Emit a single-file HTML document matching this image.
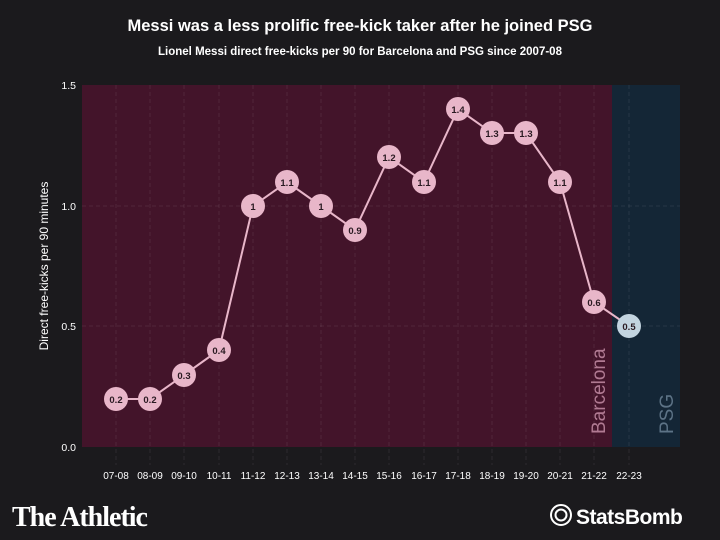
<!DOCTYPE html>
<html><head><meta charset="utf-8"><style>
body{margin:0;background:#1b1a1d;}
svg{display:block}
text{font-family:"Liberation Sans",sans-serif;}
</style></head><body>
<svg width="720" height="540" viewBox="0 0 720 540" xmlns="http://www.w3.org/2000/svg">
<rect width="720" height="540" fill="#1b1a1d"/>
<text x="360" y="31" text-anchor="middle" fill="#fff" font-size="16.5" font-weight="bold">Messi was a less prolific free-kick taker after he joined PSG</text>
<text x="360" y="55" text-anchor="middle" fill="#fff" font-size="11.5" font-weight="bold">Lionel Messi direct free-kicks per 90 for Barcelona and PSG since 2007-08</text>
<rect x="82" y="85" width="530" height="362" fill="#43142a"/>
<rect x="612" y="85" width="68" height="362" fill="#142636"/>
<g stroke="#ffffff" stroke-opacity="0.08" stroke-dasharray="4,3" stroke-width="1">
<line x1="82" y1="326" x2="680" y2="326"/><line x1="82" y1="206" x2="680" y2="206"/>
<line x1="116" y1="85" x2="116" y2="465"/><line x1="150" y1="85" x2="150" y2="465"/><line x1="184" y1="85" x2="184" y2="465"/><line x1="219" y1="85" x2="219" y2="465"/><line x1="253" y1="85" x2="253" y2="465"/><line x1="287" y1="85" x2="287" y2="465"/><line x1="321" y1="85" x2="321" y2="465"/><line x1="355" y1="85" x2="355" y2="465"/><line x1="389" y1="85" x2="389" y2="465"/><line x1="424" y1="85" x2="424" y2="465"/><line x1="458" y1="85" x2="458" y2="465"/><line x1="492" y1="85" x2="492" y2="465"/><line x1="526" y1="85" x2="526" y2="465"/><line x1="560" y1="85" x2="560" y2="465"/><line x1="594" y1="85" x2="594" y2="465"/><line x1="629" y1="85" x2="629" y2="465"/>
</g>
<g fill="#fff" font-size="10.5" text-anchor="end">
<text x="76" y="89">1.5</text><text x="76" y="210">1.0</text><text x="76" y="330">0.5</text><text x="76" y="451">0.0</text>
</g>
<text transform="translate(48,266) rotate(-90)" text-anchor="middle" fill="#fff" font-size="12">Direct free-kicks per 90 minutes</text>
<g fill="#fff" font-size="10" text-anchor="middle">
<text x="116" y="479">07-08</text><text x="150" y="479">08-09</text><text x="184" y="479">09-10</text><text x="219" y="479">10-11</text><text x="253" y="479">11-12</text><text x="287" y="479">12-13</text><text x="321" y="479">13-14</text><text x="355" y="479">14-15</text><text x="389" y="479">15-16</text><text x="424" y="479">16-17</text><text x="458" y="479">17-18</text><text x="492" y="479">18-19</text><text x="526" y="479">19-20</text><text x="560" y="479">20-21</text><text x="594" y="479">21-22</text><text x="629" y="479">22-23</text>
</g>
<text transform="translate(605,434) rotate(-90)" fill="#b07a92" font-size="19">Barcelona</text>
<text transform="translate(673,434) rotate(-90)" fill="#5d7386" font-size="19">PSG</text>
<polyline fill="none" stroke="#e8b6c9" stroke-width="2" points="116,399 150,399 184,375 219,350 253,206 287,182 321,206 355,230 389,157 424,182 458,109 492,133 526,133 560,182 594,302 629,326"/>
<g fill="#e8b6c9">
<circle cx="116" cy="399" r="12"/><circle cx="150" cy="399" r="12"/><circle cx="184" cy="375" r="12"/><circle cx="219" cy="350" r="12"/><circle cx="253" cy="206" r="12"/><circle cx="287" cy="182" r="12"/><circle cx="321" cy="206" r="12"/><circle cx="355" cy="230" r="12"/><circle cx="389" cy="157" r="12"/><circle cx="424" cy="182" r="12"/><circle cx="458" cy="109" r="12"/><circle cx="492" cy="133" r="12"/><circle cx="526" cy="133" r="12"/><circle cx="560" cy="182" r="12"/><circle cx="594" cy="302" r="12"/>
</g>
<circle cx="629" cy="326" r="12" fill="#c3d4e0"/>
<g fill="#2a1a22" font-size="9.5" font-weight="bold" text-anchor="middle">
<text x="116" y="403">0.2</text><text x="150" y="403">0.2</text><text x="184" y="379">0.3</text><text x="219" y="354">0.4</text><text x="253" y="210">1</text><text x="287" y="186">1.1</text><text x="321" y="210">1</text><text x="355" y="234">0.9</text><text x="389" y="161">1.2</text><text x="424" y="186">1.1</text><text x="458" y="113">1.4</text><text x="492" y="137">1.3</text><text x="526" y="137">1.3</text><text x="560" y="186">1.1</text><text x="594" y="306">0.6</text><text x="629" y="330">0.5</text>
</g>
<text x="12" y="526" fill="#fff" style="font-family:'Liberation Serif',serif;font-size:28px;font-weight:bold;letter-spacing:-1px">The Athletic</text>
<g fill="none" stroke="#fff" stroke-width="2">
<circle cx="561" cy="515" r="10"/><circle cx="561" cy="515" r="5.5"/></g>
<text x="576" y="524" fill="#fff" font-size="21" font-weight="bold" letter-spacing="-0.5">StatsBomb</text>
</svg>
</body></html>
